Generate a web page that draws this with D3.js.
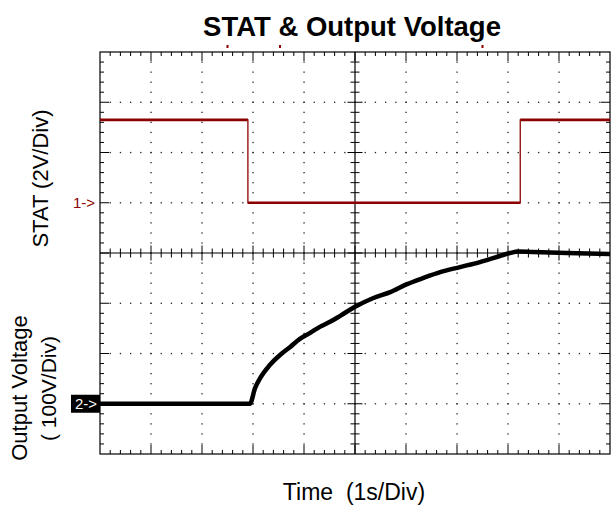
<!DOCTYPE html>
<html>
<head>
<meta charset="utf-8">
<script src="https://cdn.jsdelivr.net/npm/d3@7/dist/d3.min.js"></script>
<style>
html,body{margin:0;padding:0;background:#fff;}
svg{display:block;}
text{font-family:"Liberation Sans",Arial,sans-serif;}
</style>
</head>
<body>
<script>
// ---- data (time in s, 1 s/div; STAT in V, 2 V/div; output in V, 100 V/div)
const statTime   = [0, 2.9, 2.9, 8.24, 8.24, 10];
const statVolt   = [3.3, 3.3, 0, 0, 3.3, 3.3];
const outTime    = [0, 2.94, 3.04, 3.14, 3.33, 3.53, 3.73, 3.92, 4.12, 4.31, 4.51, 4.71, 5.0, 5.35, 5.69, 6.02, 6.33, 6.67, 7.06, 7.45, 7.84, 8.04, 8.2, 8.49, 9.16, 10];
const outVolt    = [0, 0, 31, 51, 77, 97, 113, 129, 141, 153, 163, 175, 193, 210, 222, 238, 250, 262, 272, 282, 294, 300, 303, 302, 300, 298];
const triggerMarks = [2.5, 3.53, 7.5];
const titleText  = "STAT & Output Voltage";
const xLabel     = "Time  (1s/Div)";
const yLabelStat = "STAT (2V/Div)";
const yLabelOut1 = "Output Voltage";
const yLabelOut2 = "( 100V/Div)";
const ch1Marker  = "1->";
const ch2Marker  = "2->";

const W = 612, H = 507;
const svg = d3.select("body").append("svg").attr("width", W).attr("height", H);

const x = d3.scaleLinear().domain([0, 10]).range([100, 610]);
const yDiv = d3.scaleLinear().domain([0, 8]).range([454, 52]);
const yStat = d3.scaleLinear().domain([-10, 6]).range([454, 52]);   // ground at div 5
const yOut = d3.scaleLinear().domain([-100, 700]).range([454, 52]); // ground at div 1

const RED = "#8b0000";
const g = svg.append("g");

// dotted graticule
const majorX = d3.range(1, 10).filter(d => d !== 5);
const majorY = d3.range(1, 8).filter(d => d !== 4);
const minorXs = d3.range(1, 50).map(i => i / 5);
const minorYs = d3.range(1, 40).map(i => i / 5);
majorY.forEach(dv => {
  g.selectAll(null).data(minorXs).enter().append("rect")
    .attr("x", d => x(d) - 0.6).attr("y", yDiv(dv) - 0.6)
    .attr("width", 1.3).attr("height", 1.3).attr("fill", "#222");
});
majorX.forEach(dv => {
  g.selectAll(null).data(minorYs).enter().append("rect")
    .attr("x", x(dv) - 0.6).attr("y", d => yDiv(d) - 0.6)
    .attr("width", 1.3).attr("height", 1.3).attr("fill", "#222");
});

// border
g.append("rect").attr("x", x(0)).attr("y", yDiv(8))
  .attr("width", x(10) - x(0)).attr("height", yDiv(0) - yDiv(8))
  .attr("fill", "none").attr("stroke", "#000").attr("stroke-width", 1.2);

const isMajor = d => Math.abs(d - Math.round(d)) < 1e-6;
// border ticks top / bottom
minorXs.forEach(d => {
  const L = isMajor(d) ? 9 : 4;
  g.append("line").attr("x1", x(d)).attr("x2", x(d)).attr("y1", yDiv(8)).attr("y2", yDiv(8) + L)
    .attr("stroke", "#000").attr("stroke-width", 1);
  g.append("line").attr("x1", x(d)).attr("x2", x(d)).attr("y1", yDiv(0)).attr("y2", yDiv(0) - L)
    .attr("stroke", "#000").attr("stroke-width", 1);
});
minorYs.forEach(d => {
  const L = isMajor(d) ? 9 : 4;
  g.append("line").attr("y1", yDiv(d)).attr("y2", yDiv(d)).attr("x1", x(0)).attr("x2", x(0) + L)
    .attr("stroke", "#000").attr("stroke-width", 1);
  g.append("line").attr("y1", yDiv(d)).attr("y2", yDiv(d)).attr("x1", x(10)).attr("x2", x(10) - L)
    .attr("stroke", "#000").attr("stroke-width", 1);
});

// center cross
g.append("line").attr("x1", x(0)).attr("x2", x(10)).attr("y1", yDiv(4)).attr("y2", yDiv(4))
  .attr("stroke", "#000").attr("stroke-width", 1.2);
g.append("line").attr("x1", x(5)).attr("x2", x(5)).attr("y1", yDiv(0)).attr("y2", yDiv(8))
  .attr("stroke", "#000").attr("stroke-width", 1.2);
minorXs.forEach(d => {
  const L = isMajor(d) ? 7.5 : 4.5;
  g.append("line").attr("x1", x(d)).attr("x2", x(d)).attr("y1", yDiv(4) - L).attr("y2", yDiv(4) + L)
    .attr("stroke", "#000").attr("stroke-width", 1);
});
minorYs.forEach(d => {
  const L = isMajor(d) ? 7.5 : 4.5;
  g.append("line").attr("y1", yDiv(d)).attr("y2", yDiv(d)).attr("x1", x(5) - L).attr("x2", x(5) + L)
    .attr("stroke", "#000").attr("stroke-width", 1);
});

// trigger marks above plot
g.selectAll(null).data(triggerMarks).enter().append("rect")
  .attr("x", d => x(d) - 1).attr("y", 45).attr("width", 2).attr("height", 3).attr("fill", RED);

// STAT trace
const statPts = statTime.map((t, i) => [t, statVolt[i]]);
g.append("path").datum(statPts)
  .attr("d", d3.line().x(d => x(d[0])).y(d => yStat(d[1])))
  .attr("fill", "none").attr("stroke", RED).attr("stroke-width", 1.3);
for (let i = 0; i < statPts.length - 1; i++) {
  if (statPts[i][1] === statPts[i + 1][1]) {
    g.append("line")
      .attr("x1", x(statPts[i][0])).attr("x2", x(statPts[i + 1][0]))
      .attr("y1", yStat(statPts[i][1])).attr("y2", yStat(statPts[i + 1][1]))
      .attr("stroke", RED).attr("stroke-width", 2.6);
  }
}

// Output trace
const outPts = outTime.map((t, i) => [t, outVolt[i]]);
g.append("path").datum(outPts)
  .attr("d", d3.line().x(d => x(d[0])).y(d => yOut(d[1])).curve(d3.curveMonotoneX))
  .attr("fill", "none").attr("stroke", "#000").attr("stroke-width", 4.5).attr("stroke-linejoin", "round");

// channel markers
svg.append("text").attr("x", 95).attr("y", yStat(0) + 5).attr("text-anchor", "end")
  .attr("font-size", 15).attr("fill", RED).text(ch1Marker);
svg.append("rect").attr("x", 71).attr("y", yOut(0) - 9).attr("width", 29).attr("height", 18).attr("fill", "#000");
svg.append("text").attr("x", 97).attr("y", yOut(0) + 5).attr("text-anchor", "end")
  .attr("font-size", 15).attr("fill", "#fff").text(ch2Marker);

// titles
svg.append("text").attr("x", 352).attr("y", 36).attr("text-anchor", "middle")
  .attr("font-size", 27.5).attr("font-weight", "bold").text(titleText);
svg.append("text").attr("x", 354).attr("y", 500).attr("text-anchor", "middle")
  .attr("font-size", 23).style("white-space", "pre").text(xLabel);
svg.append("text").attr("transform", "translate(48,178.5) rotate(-90)").attr("text-anchor", "middle")
  .attr("font-size", 22).text(yLabelStat);
svg.append("text").attr("transform", "translate(27,388) rotate(-90)").attr("text-anchor", "middle")
  .attr("font-size", 22).text(yLabelOut1);
svg.append("text").attr("transform", "translate(56,388.5) rotate(-90)").attr("text-anchor", "middle")
  .attr("font-size", 21).style("white-space", "pre").text(yLabelOut2);
</script>
</body>
</html>
